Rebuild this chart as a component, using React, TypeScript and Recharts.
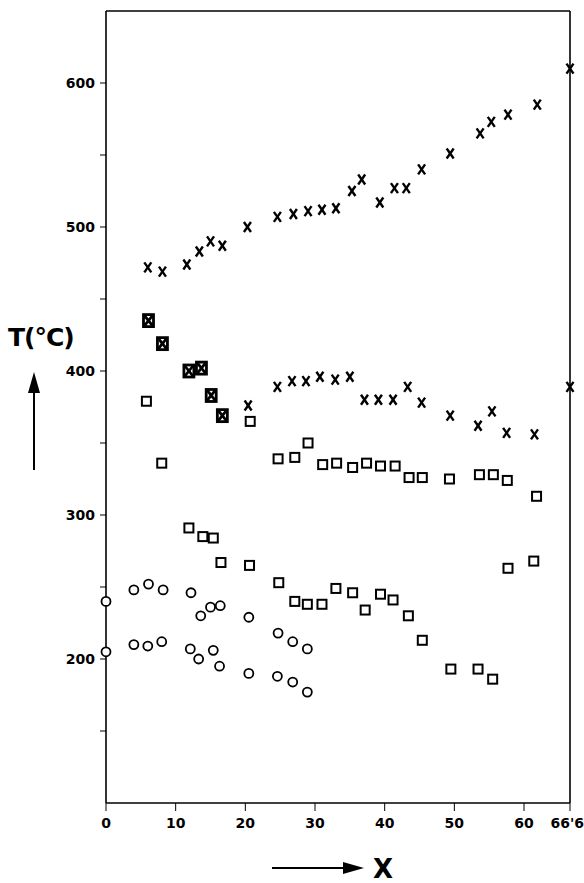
import { ScatterChart, Scatter, XAxis, YAxis } from 'recharts'

// x = composition X, t = temperature in °C
const crossesUpper = [
  { x: 6.0, t: 472 }, { x: 8.1, t: 469 }, { x: 11.6, t: 474 }, { x: 13.4, t: 483 },
  { x: 15.0, t: 490 }, { x: 16.7, t: 487 }, { x: 20.3, t: 500 }, { x: 24.6, t: 507 },
  { x: 26.9, t: 509 }, { x: 29.0, t: 511 }, { x: 31.0, t: 512 }, { x: 33.0, t: 513 },
  { x: 35.3, t: 525 }, { x: 36.7, t: 533 }, { x: 39.3, t: 517 }, { x: 41.4, t: 527 },
  { x: 43.1, t: 527 }, { x: 45.3, t: 540 }, { x: 49.4, t: 551 }, { x: 53.7, t: 565 },
  { x: 55.3, t: 573 }, { x: 57.7, t: 578 }, { x: 61.9, t: 585 }, { x: 66.6, t: 610 },
]

const crossesLower = [
  { x: 20.4, t: 376 }, { x: 24.6, t: 389 }, { x: 26.7, t: 393 }, { x: 28.7, t: 393 },
  { x: 30.7, t: 396 }, { x: 32.9, t: 394 }, { x: 35.0, t: 396 }, { x: 37.1, t: 380 },
  { x: 39.1, t: 380 }, { x: 41.2, t: 380 }, { x: 43.3, t: 389 }, { x: 45.3, t: 378 },
  { x: 49.4, t: 369 }, { x: 53.4, t: 362 }, { x: 55.4, t: 372 }, { x: 57.5, t: 357 },
  { x: 61.5, t: 356 }, { x: 66.6, t: 389 },
]

// crosses drawn over squares (the heavy marks)
const boxedCrosses = [
  { x: 6.1, t: 435 }, { x: 8.1, t: 419 }, { x: 11.9, t: 400 },
  { x: 13.7, t: 402 }, { x: 15.1, t: 383 }, { x: 16.7, t: 369 },
]

const squaresUpper = [
  { x: 5.8, t: 379 }, { x: 8.0, t: 336 }, { x: 20.7, t: 365 }, { x: 24.7, t: 339 },
  { x: 27.1, t: 340 }, { x: 29.0, t: 350 }, { x: 31.1, t: 335 }, { x: 33.1, t: 336 },
  { x: 35.4, t: 333 }, { x: 37.4, t: 336 }, { x: 39.4, t: 334 }, { x: 41.5, t: 334 },
  { x: 43.5, t: 326 }, { x: 45.4, t: 326 }, { x: 49.3, t: 325 }, { x: 53.6, t: 328 },
  { x: 55.6, t: 328 }, { x: 57.6, t: 324 }, { x: 61.8, t: 313 },
]

const squaresLower = [
  { x: 11.9, t: 291 }, { x: 13.9, t: 285 }, { x: 15.4, t: 284 }, { x: 16.5, t: 267 },
  { x: 20.6, t: 265 }, { x: 24.8, t: 253 }, { x: 27.1, t: 240 }, { x: 28.9, t: 238 },
  { x: 31.0, t: 238 }, { x: 33.0, t: 249 }, { x: 35.4, t: 246 }, { x: 37.2, t: 234 },
  { x: 39.4, t: 245 }, { x: 41.2, t: 241 }, { x: 43.4, t: 230 }, { x: 45.4, t: 213 },
  { x: 49.5, t: 193 }, { x: 53.4, t: 193 }, { x: 55.5, t: 186 }, { x: 57.7, t: 263 },
  { x: 61.4, t: 268 },
]

const circlesUpper = [
  { x: 0, t: 240 }, { x: 4.0, t: 248 }, { x: 6.1, t: 252 }, { x: 8.2, t: 248 },
  { x: 12.2, t: 246 }, { x: 13.6, t: 230 }, { x: 15.0, t: 236 }, { x: 16.4, t: 237 },
  { x: 20.5, t: 229 }, { x: 24.7, t: 218 }, { x: 26.8, t: 212 }, { x: 28.9, t: 207 },
]

const circlesLower = [
  { x: 0, t: 205 }, { x: 4.0, t: 210 }, { x: 6.0, t: 209 }, { x: 8.0, t: 212 },
  { x: 12.1, t: 207 }, { x: 13.3, t: 200 }, { x: 15.4, t: 206 }, { x: 16.3, t: 195 },
  { x: 20.5, t: 190 }, { x: 24.6, t: 188 }, { x: 26.8, t: 184 }, { x: 28.9, t: 177 },
]

const xTicks = [0, 10, 20, 30, 40, 50, 60, 66.6]
const xTopTicks = [10, 20, 30, 40, 50, 60]
const yTicks = [150, 200, 250, 300, 350, 400, 450, 500, 550, 600]

const font = 'DejaVu Sans, sans-serif'
const tickStyle = { fill: '#000', fontSize: 14, fontWeight: 'bold', fontFamily: font }
const axisLine = { stroke: '#000', strokeWidth: 1.6 }
const tickLine = { stroke: '#000', strokeWidth: 1 }

const XTick = ({ x, y, payload }: any) => {
  const last = payload.value === 66.6
  return (
    <text
      x={last ? 584 : x}
      y={y + 15}
      textAnchor={last ? 'end' : 'middle'}
      {...tickStyle}
    >
      {last ? "66'6" : payload.value}
    </text>
  )
}

const Cross = ({ cx, cy }: any) => (
  <g stroke="#000" strokeWidth={2.4}>
    <line x1={cx - 3.5} y1={cy - 5} x2={cx + 3.5} y2={cy + 5} />
    <line x1={cx + 3.5} y1={cy - 5} x2={cx - 3.5} y2={cy + 5} />
  </g>
)

const Square = ({ cx, cy }: any) => (
  <rect x={cx - 4.5} y={cy - 4.5} width={9} height={9} fill="#fff" stroke="#000" strokeWidth={2} />
)

const Ring = ({ cx, cy }: any) => (
  <circle cx={cx} cy={cy} r={4.5} fill="#fff" stroke="#000" strokeWidth={1.8} />
)

const Boxed = ({ cx, cy }: any) => (
  <g stroke="#000" strokeWidth={2.8}>
    <rect x={cx - 5} y={cy - 6} width={10} height={12} fill="#fff" />
    <line x1={cx - 4} y1={cy - 5} x2={cx + 4} y2={cy + 5} />
    <line x1={cx + 4} y1={cy - 5} x2={cx - 4} y2={cy + 5} />
  </g>
)

export default function App() {
  return (
    <div style={{ position: 'absolute', left: 0, top: 0, width: 584, height: 883, background: '#fff' }}>
      <ScatterChart width={584} height={883} margin={{ top: 10, right: 13, bottom: 50, left: 0 }}>
        <XAxis
          xAxisId="b"
          type="number"
          dataKey="x"
          domain={[0, 66.6]}
          ticks={xTicks}
          height={30}
          tickSize={8}
          tick={<XTick />}
          axisLine={axisLine}
          tickLine={tickLine}
          interval={0}
        />
        <XAxis xAxisId="bm" type="number" domain={[0, 66.6]} ticks={xTicks} mirror height={1}
          tickSize={4} tick={false} axisLine={false} tickLine={tickLine} />
        <XAxis xAxisId="t" orientation="top" type="number" domain={[0, 66.6]} ticks={xTopTicks}
          height={1} tickSize={6} tick={false} axisLine={axisLine} tickLine={tickLine} />
        <XAxis xAxisId="tm" orientation="top" mirror type="number" domain={[0, 66.6]} ticks={xTopTicks}
          height={1} tickSize={4} tick={false} axisLine={false} tickLine={tickLine} />
        <YAxis
          yAxisId="l"
          type="number"
          dataKey="t"
          domain={[100, 650]}
          ticks={yTicks}
          tickFormatter={(v: number) => (v % 100 === 0 ? String(v) : '')}
          width={106}
          tickSize={6}
          tickMargin={5}
          tick={tickStyle}
          axisLine={axisLine}
          tickLine={tickLine}
          interval={0}
        />
        <YAxis yAxisId="lm" mirror type="number" domain={[100, 650]} ticks={yTicks} width={1}
          tickSize={5} tick={false} axisLine={false} tickLine={tickLine} />
        <YAxis yAxisId="r" orientation="right" type="number" domain={[100, 650]} ticks={yTicks} width={1}
          tickSize={6} tick={false} axisLine={axisLine} tickLine={tickLine} />
        <YAxis yAxisId="rm" orientation="right" mirror type="number" domain={[100, 650]} ticks={yTicks} width={1}
          tickSize={5} tick={false} axisLine={false} tickLine={tickLine} />
        <Scatter xAxisId="b" yAxisId="l" data={circlesUpper} shape={Ring} isAnimationActive={false} />
        <Scatter xAxisId="b" yAxisId="l" data={circlesLower} shape={Ring} isAnimationActive={false} />
        <Scatter xAxisId="b" yAxisId="l" data={squaresUpper} shape={Square} isAnimationActive={false} />
        <Scatter xAxisId="b" yAxisId="l" data={squaresLower} shape={Square} isAnimationActive={false} />
        <Scatter xAxisId="b" yAxisId="l" data={crossesUpper} shape={Cross} isAnimationActive={false} />
        <Scatter xAxisId="b" yAxisId="l" data={crossesLower} shape={Cross} isAnimationActive={false} />
        <Scatter xAxisId="b" yAxisId="l" data={boxedCrosses} shape={Boxed} isAnimationActive={false} />
      </ScatterChart>
      <svg width={584} height={883} style={{ position: 'absolute', left: 0, top: 0, pointerEvents: 'none' }}>
        <text x={8} y={346} fontSize={25} fontWeight="bold" fontFamily={font} letterSpacing={-1} fill="#000">T(°C)</text>
        <line x1={34} y1={470} x2={34} y2={390} stroke="#000" strokeWidth={2} />
        <polygon points="28,393 40,393 34,372" fill="#000" />
        <line x1={272} y1={868} x2={346} y2={868} stroke="#000" strokeWidth={2} />
        <polygon points="343,862 343,874 364,868" fill="#000" />
        <text x={373} y={878} fontSize={26} fontWeight="bold" fontFamily={font} fill="#000">X</text>
      </svg>
    </div>
  )
}
